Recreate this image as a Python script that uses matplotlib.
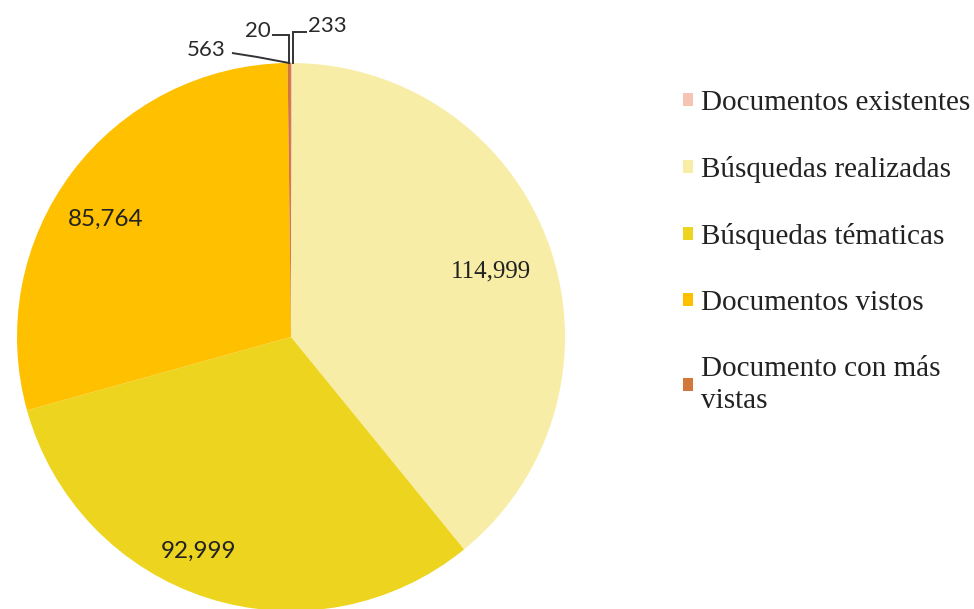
import matplotlib
matplotlib.use("Agg")
import matplotlib.pyplot as plt
from matplotlib.patches import Patch
import numpy as np

# ---- data ----
categories = ["Documentos existentes", "Búsquedas realizadas", "Búsquedas tématicas",
              "Documentos vistos", "Documento con más vistas", ""]
values = [233, 114999, 92999, 85764, 563, 20]
value_labels = ["233", "114,999", "92,999", "85,764", "563", "20"]
colors = ["#F6C4B2", "#F8EDA6", "#EDD41E", "#FFC000", "#D2773A", "#B8632A"]
legend_labels = ["Documentos existentes", "Búsquedas realizadas", "Búsquedas tématicas",
                 "Documentos vistos", "Documento con más\nvistas"]

W, H = 974, 609
fig = plt.figure(figsize=(W / 100, H / 100), dpi=100)
fig.patch.set_facecolor("white")

cx, cy, r = 291, 337, 274  # pixel centre / radius
ax = fig.add_axes([(cx - r) / W, (H - cy - r) / H, 2 * r / W, 2 * r / H])

wedges, _ = ax.pie(values, colors=colors, startangle=90, counterclock=False,
                   radius=1, wedgeprops=dict(linewidth=0))
ax.set_xlim(-1, 1)
ax.set_ylim(-1, 1)
ax.set_aspect("equal")
ax.axis("off")
for w in wedges:
    w.set_clip_on(False)

# in-slice labels
inside = {1: (0.73, 0.24, "Liberation Serif", 18),
          2: (-0.336, -0.782, "Lato", 17.5),
          3: (-0.675, 0.429, "Lato", 17.5)}
for i, (x, y, fam, fs) in inside.items():
    ax.text(x, y, value_labels[i], ha="center", va="center", fontsize=fs,
            family=fam, color="#222222")

# small slices with leader lines
def mid_point(w):
    a = np.deg2rad((w.theta1 + w.theta2) / 2)
    return np.cos(a), np.sin(a)

small = {
    0: dict(text=(0.131, 1.135), elbow=[(0.055, 1.113), (0.007, 1.113)]),
    5: dict(text=(-0.12, 1.117), elbow=[(-0.066, 1.102), (-0.007, 1.102)]),
    4: dict(text=(-0.31, 1.047), elbow=[(-0.212, 1.036), (-0.124, 1.022)]),
}
for i, d in small.items():
    mx, my = mid_point(wedges[i])
    last_x = d["elbow"][-1][0] if i != 4 else mx
    pts = d["elbow"] + [(last_x, my)]
    xs = [p[0] for p in pts]
    ys = [p[1] for p in pts]
    ax.plot(xs, ys, color="#333333", lw=1.4, clip_on=False, solid_joinstyle="miter")
    ax.text(d["text"][0], d["text"][1], value_labels[i], ha="center", va="center",
            fontsize=16, family="Lato", color="#2a2a2a", clip_on=False)

# legend
handles = [Patch(facecolor=colors[i], edgecolor="none") for i in range(5)]
leg = fig.legend(handles, legend_labels, loc="upper left",
                 bbox_to_anchor=(683 / W, 1 - 90 / H), frameon=False,
                 prop=dict(family="Liberation Serif", size=21),
                 handlelength=0.33, handleheight=0.33, handletextpad=0.28,
                 labelspacing=1.37, borderpad=0, borderaxespad=0)
for t in leg.get_texts():
    t.set_linespacing(1.3)
    t.set_color("#222222")

fig.savefig("out.png", dpi=100, facecolor="white")
